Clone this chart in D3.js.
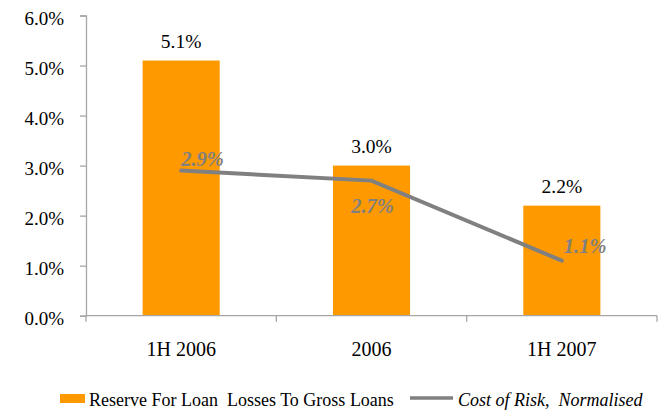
<!DOCTYPE html>
<html>
<head>
<meta charset="utf-8">
<script src="https://cdn.jsdelivr.net/npm/d3@7"></script>
<style>
  body { margin: 0; background: #fff; }
  svg { display: block; }
  svg text { font-family: "Liberation Serif", "Times New Roman", serif; }
</style>
</head>
<body>
<script>
// chart data
const categories = ["1H 2006", "2006", "1H 2007"];
const reserveRatio = [5.1, 3.0, 2.2];      // bars, %
const costOfRisk = [2.9, 2.7, 1.1];        // line, %
const yTicks = [0, 1, 2, 3, 4, 5, 6];
const seriesNames = ["Reserve For Loan  Losses To Gross Loans", "Cost of Risk,  Normalised"];

const width = 659, height = 410;
const plotLeft = 86, plotRight = 657, plotTop = 15.5, plotBottom = 315.7;

const svg = d3.select("body")
    .append("svg")
    .attr("width", width)
    .attr("height", height);

const x = d3.scaleBand()
    .domain(categories)
    .range([plotLeft, plotRight])
    .paddingInner(0.595)
    .paddingOuter(0.2975);

const y = d3.scaleLinear()
    .domain([0, 6])
    .range([plotBottom, plotTop]);

const axisColor = "#a6a6a6";

// y axis
const yAxis = svg.append("g")
    .attr("transform", `translate(${plotLeft},0)`)
    .call(d3.axisLeft(y).tickValues(yTicks).tickSize(6).tickPadding(16)
        .tickFormat(d => d.toFixed(1) + "%"));
yAxis.attr("font-family", null);
yAxis.select(".domain").attr("stroke", axisColor).attr("stroke-width", 1.3);
yAxis.selectAll(".tick line").attr("stroke", axisColor).attr("stroke-width", 1.3);
yAxis.selectAll(".tick text")
    .attr("font-size", 19)
    .attr("fill", "#000")
    .attr("dy", "0.45em");

// bars
svg.append("g").selectAll("rect")
    .data(reserveRatio)
    .join("rect")
    .attr("x", (d, i) => x(categories[i]))
    .attr("y", d => y(d))
    .attr("width", x.bandwidth())
    .attr("height", d => y(0) - y(d))
    .attr("fill", "#ff9900");

// bar labels
svg.append("g").selectAll("text")
    .data(reserveRatio)
    .join("text")
    .attr("x", (d, i) => x(categories[i]) + x.bandwidth() / 2)
    .attr("y", d => y(d) - 13)
    .attr("text-anchor", "middle")
    .attr("font-size", 19.5)
    .attr("fill", "#000")
    .text(d => d.toFixed(1) + "%");

// x axis with ticks at category boundaries
const gap = x.step() - x.bandwidth();
const bounds = categories.map(c => x(c) - gap / 2).concat([plotRight]);
svg.append("line")
    .attr("x1", plotLeft).attr("x2", plotRight)
    .attr("y1", y(0)).attr("y2", y(0))
    .attr("stroke", axisColor).attr("stroke-width", 1.3);
svg.append("g").selectAll("line")
    .data(bounds)
    .join("line")
    .attr("x1", d => d).attr("x2", d => d)
    .attr("y1", y(0)).attr("y2", y(0) + 6)
    .attr("stroke", axisColor).attr("stroke-width", 1.3);
svg.append("g").selectAll("text")
    .data(categories)
    .join("text")
    .attr("x", d => x(d) + x.bandwidth() / 2)
    .attr("y", y(0) + 40)
    .attr("text-anchor", "middle")
    .attr("font-size", 20)
    .attr("fill", "#000")
    .text(d => d);

// cost of risk line
const cx = (d, i) => x(categories[i]) + x.bandwidth() / 2;
svg.append("path")
    .datum(costOfRisk)
    .attr("d", d3.line().x(cx).y(d => y(d)))
    .attr("fill", "none")
    .attr("stroke", "#808080")
    .attr("stroke-width", 4)
    .attr("stroke-linecap", "round");

// line labels: [anchor, dx, dy]
const lineLabelPlace = [["start", 0, -5], ["middle", 1, 32], ["start", 2, -8]];
svg.append("g").selectAll("text")
    .data(costOfRisk)
    .join("text")
    .attr("x", (d, i) => cx(d, i) + lineLabelPlace[i][1])
    .attr("y", (d, i) => y(d) + lineLabelPlace[i][2])
    .attr("text-anchor", (d, i) => lineLabelPlace[i][0])
    .attr("font-size", 20.5)
    .attr("font-weight", "bold")
    .attr("font-style", "italic")
    .attr("fill", "#808080")
    .text(d => d.toFixed(1) + "%");

// legend
const legend = svg.append("g");
legend.append("rect")
    .attr("x", 60).attr("y", 394)
    .attr("width", 25).attr("height", 9)
    .attr("fill", "#ff9900");
legend.append("text")
    .attr("x", 89).attr("y", 406)
    .attr("font-size", 18)
    .attr("fill", "#000")
    .style("white-space", "pre")
    .text(seriesNames[0]);
legend.append("line")
    .attr("x1", 410).attr("x2", 453)
    .attr("y1", 398).attr("y2", 398)
    .attr("stroke", "#808080").attr("stroke-width", 3.5);
legend.append("text")
    .attr("x", 458).attr("y", 406)
    .attr("font-size", 18)
    .attr("font-style", "italic")
    .attr("fill", "#000")
    .style("white-space", "pre")
    .text(seriesNames[1]);
</script>
</body>
</html>
